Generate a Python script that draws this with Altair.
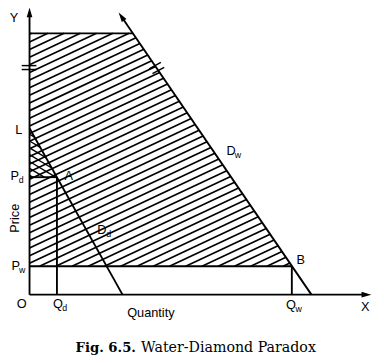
import math
import altair as alt
import pandas as pd

# ---- values (units: chart units, origin at O) ----
top_price = 267          # upper edge of the hatched area
Pd, Pw = 120, 29         # prices
Qd, Qw = 28, 268         # quantities
L = 170                  # Dd intercept on price axis
Dd_x0 = 95               # Dd intercept on quantity axis
Dw_x0 = 288              # Dw intercept on quantity axis
Dw_tip = (92, 287)       # arrow tip of Dw
x_axis_end, y_axis_end = 344, 288

seg_rows = []
def seg(x, y, x2, y2, w=1.9):
    seg_rows.append(dict(x=x, y=y, x2=x2, y2=y2, w=w))

k = (Dw_x0 - Dw_tip[0]) / Dw_tip[1]
top_right_x = Dw_x0 - k * top_price

# axes
seg(0, 0, x_axis_end, 0)
seg(0, 0, 0, y_axis_end)
# top edge of area
seg(0, top_price, top_right_x, top_price)
# Dw and Dd
seg(Dw_x0, 0, Dw_tip[0] + 2, Dw_tip[1] - 3)
seg(0, L, Dd_x0, 0)
# price / quantity lines
seg(0, Pd, Qd, Pd)
seg(Qd, Pd, Qd, 0)
seg(0, Pw, Qw, Pw)
seg(Qw, Pw, Qw, 0)
# break marks on Y axis
seg(-8, 230, 7, 230, 1.5)
seg(-8, 234, 7, 234, 1.5)
# break marks on Dw
for yy in (229, 234):
    cx = Dw_x0 - k * yy
    seg(cx - 6, yy - 3.3, cx + 6, yy + 3.3, 1.5)

# ---- hatching (clip lines against convex regions) ----
def clip(m, c, planes):
    lo, hi = -1e9, 1e9
    for a, b, e in planes:
        coef = a + b * m
        rhs = e - b * c
        if abs(coef) < 1e-12:
            if rhs < 0:
                return None
            continue
        v = rhs / coef
        if coef > 0:
            hi = min(hi, v)
        else:
            lo = max(lo, v)
    if hi - lo < 0.5:
        return None
    return lo, hi

area = [(-1, 0, 0), (0, 1, top_price), (0, -1, -Pw), (1, k, Dw_x0)]
m1, step1 = 0.47, 7.8
c = top_price - 1
while c > Pw - m1 * 300:
    r = clip(m1, c, area)
    if r:
        seg(r[0], m1 * r[0] + c, r[1], m1 * r[1] + c, 1.7)
    c -= step1

tri = [(-1, 0, 0), (0, -1, -Pd), (1 / Dd_x0, 1 / L, 1)]
m2, step2 = -0.6, 7.0
c = Pd + 2
while c < L + 40:
    r = clip(m2, c, tri)
    if r:
        seg(r[0], m2 * r[0] + c, r[1], m2 * r[1] + c, 1.4)
    c += step2

segs = pd.DataFrame(seg_rows)

xs = alt.Scale(domain=[-22, 354], nice=False, zero=False)
ys = alt.Scale(domain=[-66, 289], nice=False, zero=False)

rules = alt.Chart(segs).mark_rule(color="black").encode(
    x=alt.X("x:Q", scale=xs, axis=None),
    y=alt.Y("y:Q", scale=ys, axis=None),
    x2="x2:Q", y2="y2:Q",
    strokeWidth=alt.StrokeWidth("w:Q", scale=None),
)

# arrow heads
dw_ang = math.degrees(math.atan2(-(Dw_x0 - Dw_tip[0]), Dw_tip[1])) % 360
heads = pd.DataFrame(dict(
    x=[x_axis_end, 0, Dw_tip[0] + 2],
    y=[0, y_axis_end, Dw_tip[1] - 3],
    angle=[90, 0, dw_ang],
))
arrow = alt.Chart(heads).mark_point(
    shape="M0,-1L0.55,0.9L-0.55,0.9Z", filled=True, color="black",
    opacity=1, size=110, strokeWidth=0,
).encode(
    x=alt.X("x:Q", scale=xs, axis=None),
    y=alt.Y("y:Q", scale=ys, axis=None),
    angle=alt.Angle("angle:Q", scale=None),
)

# labels
lab_text = ["Y", "X", "O", "L", "P", "A", "P", "B", "Q", "Q", "Quantity", "D", "D"]
lab_x = [-16, 343, -8, -11, -15, 40, -14, 277, 29, 267, 124, 74, 206]
lab_y = [283, -13, -10, 168, 121, 121, 29, 35, -10, -11, -19, 66, 147]
labels = pd.DataFrame(dict(x=lab_x, y=lab_y, t=lab_text))

sub_text = ["d", "w", "d", "w", "d", "w"]
sub_x = [-8.5, -7.5, 36, 275, 81, 213]
sub_y = [117, 25, -14, -15, 62, 143]
subs = pd.DataFrame(dict(x=sub_x, y=sub_y, t=sub_text))

def text_layer(df, size, font="Liberation Sans", weight="normal", align="center", angle=0):
    return alt.Chart(df).mark_text(
        font=font, fontSize=size, fontWeight=weight, align=align,
        baseline="middle", color="black", angle=angle,
    ).encode(
        x=alt.X("x:Q", scale=xs, axis=None),
        y=alt.Y("y:Q", scale=ys, axis=None),
        text="t:N",
    )

price = pd.DataFrame(dict(x=[-15], y=[78], t=["Price"]))
cap1 = pd.DataFrame(dict(x=[47], y=[-55], t=["Fig. 6.5."]))
cap2 = pd.DataFrame(dict(x=[114], y=[-55], t=["Water-Diamond Paradox"]))

chart = alt.layer(
    rules, arrow,
    text_layer(labels, 13),
    text_layer(subs, 9),
    text_layer(price, 13, angle=270),
    text_layer(cap1, 13.5, font="DejaVu Serif", weight="bold", align="left"),
    text_layer(cap2, 14.5, font="DejaVu Serif", align="left"),
).properties(
    width=376, height=355,
    autosize=alt.AutoSizeParams(type="none"),
    padding=0,
    background="white",
).configure_view(stroke=None)

chart.save("out.html", embed_options={"renderer": "svg", "actions": False})
